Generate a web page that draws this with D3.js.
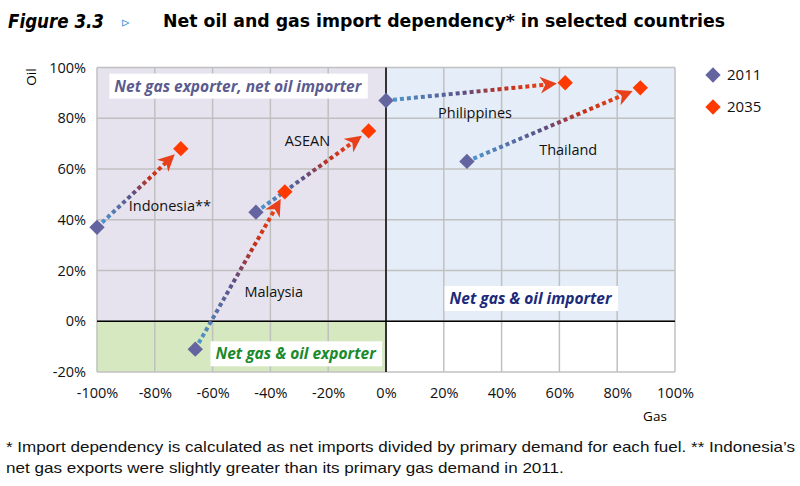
<!DOCTYPE html>
<html>
<head>
<meta charset="utf-8">
<script src="https://cdn.jsdelivr.net/npm/d3@7"></script>
<style>
  body { margin: 0; background: #fff; }
  svg { display: block; }
</style>
</head>
<body>
<svg id="chart" width="800" height="486"></svg>
<script>
// values (percent)
const countries = ["Indonesia**", "Malaysia", "ASEAN", "Philippines", "Thailand"];
const gas2011 = [-100, -66, -45, 0, 28];
const oil2011 = [37, -11, 43, 87, 63];
const gas2035 = [-71, -35, -6, 62, 88];
const oil2035 = [68, 51, 75, 94, 92];
const labelPos = [[-89, 43.5], [-49, 9.5], [-35, 69], [18, 80], [53, 65.5]]; // label anchors (gas, oil)
const xTicks = [-100, -80, -60, -40, -20, 0, 20, 40, 60, 80, 100];
const yTicks = [-20, 0, 20, 40, 60, 80, 100];

const svg = d3.select("#chart");
const x = d3.scaleLinear().domain([-100, 100]).range([97, 675]);
const y = d3.scaleLinear().domain([-20, 100]).range([372, 67.5]);

const tickFont = "'Open Sans', 'Noto Sans', sans-serif";

// quadrant fills
const quads = [
  { x0: -100, x1: 0, y0: 0, y1: 100, c: "#e6e3ee" },
  { x0: 0, x1: 100, y0: 0, y1: 100, c: "#e5eef8" },
  { x0: -100, x1: 0, y0: -20, y1: 0, c: "#d5e8bf" },
  { x0: 0, x1: 100, y0: -20, y1: 0, c: "#ffffff" }
];
svg.selectAll("rect.quad").data(quads).enter().append("rect")
  .attr("x", d => x(d.x0)).attr("y", d => y(d.y1))
  .attr("width", d => x(d.x1) - x(d.x0)).attr("height", d => y(d.y0) - y(d.y1))
  .attr("fill", d => d.c);

// grid
svg.append("g").selectAll("line").data(xTicks).enter().append("line")
  .attr("x1", d => x(d)).attr("x2", d => x(d))
  .attr("y1", y(100)).attr("y2", y(-20))
  .attr("stroke", "#c0c0c0").attr("stroke-width", 1.5);
svg.append("g").selectAll("line").data(yTicks).enter().append("line")
  .attr("x1", x(-100)).attr("x2", x(100))
  .attr("y1", d => y(d)).attr("y2", d => y(d))
  .attr("stroke", "#c0c0c0").attr("stroke-width", 1.5);

// zero axes
svg.append("line").attr("x1", x(-100)).attr("x2", x(100))
  .attr("y1", y(0)).attr("y2", y(0)).attr("stroke", "#000").attr("stroke-width", 1.5);
svg.append("line").attr("x1", x(0)).attr("x2", x(0))
  .attr("y1", y(100)).attr("y2", y(-20)).attr("stroke", "#000").attr("stroke-width", 1.5);

// axes tick labels
const xAxis = svg.append("g").attr("transform", `translate(0,${y(-20)})`)
  .call(d3.axisBottom(x).tickValues(xTicks).tickFormat(d => d + "%").tickSize(0).tickPadding(16));
const yAxis = svg.append("g").attr("transform", `translate(${x(-100)},0)`)
  .call(d3.axisLeft(y).tickValues(yTicks).tickFormat(d => d + "%").tickSize(0).tickPadding(11));
[xAxis, yAxis].forEach(a => {
  a.select(".domain").remove();
  a.selectAll("text").attr("font-family", tickFont).attr("font-size", 14.5).attr("fill", "#111");
});
svg.append("text").attr("x", 655).attr("y", 421).attr("text-anchor", "middle")
  .attr("font-family", tickFont).attr("font-size", 13.5).text("Gas");
svg.append("text").attr("transform", "translate(36,77) rotate(-90)").attr("text-anchor", "middle")
  .attr("font-family", tickFont).attr("font-size", 13.5).text("Oil");

// quadrant labels with white boxes
const quadLabels = [
  { t: "Net gas exporter, net oil importer", gx: -94, oy: 90.5, c: "#5b5b8f" },
  { t: "Net gas & oil exporter", gx: -59, oy: -15, c: "#1a8a2a" },
  { t: "Net gas & oil importer", gx: 22, oy: 6.8, c: "#1b2a7a" }
];
quadLabels.forEach(q => {
  const g = svg.append("g");
  const t = g.append("text").attr("x", x(q.gx)).attr("y", y(q.oy))
    .attr("font-family", tickFont).attr("font-size", 15.5).attr("font-weight", "bold")
    .attr("font-style", "italic").attr("fill", q.c).text(q.t);
  const b = t.node().getBBox();
  g.insert("rect", "text").attr("x", b.x - 5).attr("y", b.y - 1)
    .attr("width", b.width + 10).attr("height", b.height + 3).attr("fill", "#fff");
});

// arrows
const defs = svg.append("defs");
defs.append("marker").attr("id", "head").attr("viewBox", "0 0 10 10")
  .attr("refX", 6).attr("refY", 5).attr("markerWidth", 4.2).attr("markerHeight", 4.2)
  .attr("orient", "auto").attr("markerUnits", "strokeWidth")
  .append("path").attr("d", "M0,0 L10,5 L0,10 L3,5 Z").attr("fill", "#e8401c");

countries.forEach((c, i) => {
  const x1 = x(gas2011[i]), y1 = y(oil2011[i]);
  const x2 = x(gas2035[i]), y2 = y(oil2035[i]);
  const len = Math.hypot(x2 - x1, y2 - y1);
  const ux = (x2 - x1) / len, uy = (y2 - y1) / len;
  const sx = x1 + ux * 7, sy = y1 + uy * 7;
  const ex = x2 - ux * 15, ey = y2 - uy * 15;
  const gr = defs.append("linearGradient").attr("id", "g" + i)
    .attr("gradientUnits", "userSpaceOnUse")
    .attr("x1", sx).attr("y1", sy).attr("x2", ex).attr("y2", ey);
  gr.append("stop").attr("offset", "0%").attr("stop-color", "#4f95cc");
  gr.append("stop").attr("offset", "45%").attr("stop-color", "#5b4f85");
  gr.append("stop").attr("offset", "70%").attr("stop-color", "#c0301c");
  gr.append("stop").attr("offset", "100%").attr("stop-color", "#ee4418");
  svg.append("line").attr("x1", sx).attr("y1", sy).attr("x2", ex).attr("y2", ey)
    .attr("stroke", `url(#g${i})`).attr("stroke-width", 4)
    .attr("stroke-dasharray", "4 3").attr("marker-end", "url(#head)");
});

// diamonds
const diamond = d3.symbol().type(d3.symbolDiamond2).size(150);
svg.selectAll("path.d11").data(countries).enter().append("path")
  .attr("transform", (d, i) => `translate(${x(gas2011[i])},${y(oil2011[i])})`)
  .attr("d", diamond).attr("fill", "#6465a0");
svg.selectAll("path.d35").data(countries).enter().append("path")
  .attr("transform", (d, i) => `translate(${x(gas2035[i])},${y(oil2035[i])})`)
  .attr("d", diamond).attr("fill", "#ff3a00");

// country labels
svg.selectAll("text.country").data(countries).enter().append("text")
  .attr("x", (d, i) => x(labelPos[i][0])).attr("y", (d, i) => y(labelPos[i][1]))
  .attr("font-family", tickFont).attr("font-size", 14.5).attr("fill", "#111").text(d => d);

// legend
const legend = [{ t: "2011", c: "#6465a0" }, { t: "2035", c: "#ff3a00" }];
legend.forEach((l, i) => {
  svg.append("path").attr("transform", `translate(713,${75 + i * 32})`)
    .attr("d", diamond).attr("fill", l.c);
  svg.append("text").attr("x", 727).attr("y", 80 + i * 32)
    .attr("font-family", tickFont).attr("font-size", 15).attr("fill", "#111").text(l.t);
});

// title
svg.append("text").attr("x", 8).attr("y", 28)
  .attr("font-family", "'DejaVu Sans', sans-serif").attr("font-size", 20)
  .attr("font-weight", "bold").attr("font-style", "italic")
  .attr("textLength", 96).attr("lengthAdjust", "spacingAndGlyphs").text("Figure 3.3");
svg.append("text").attr("x", 122).attr("y", 27)
  .attr("font-family", "'DejaVu Sans', sans-serif").attr("font-size", 15)
  .attr("fill", "#3a8fd0").text("▹");
svg.append("text").attr("x", 163).attr("y", 27)
  .attr("font-family", "'DejaVu Sans', sans-serif").attr("font-size", 17.5).attr("font-weight", "bold")
  .attr("textLength", 562).attr("lengthAdjust", "spacingAndGlyphs")
  .text("Net oil and gas import dependency* in selected countries");

// footnote
const notes = [
  "* Import dependency is calculated as net imports divided by primary demand for each fuel. ** Indonesia\u2019s",
  "net gas exports were slightly greater than its primary gas demand in 2011."
];
const noteText = notes.map((n, i) => svg.append("text").attr("x", 6).attr("y", 452 + i * 21)
  .attr("font-family", "'Liberation Sans Narrow', 'Liberation Sans', sans-serif")
  .attr("font-size", 15).attr("fill", "#111").text(n));
const w0 = noteText[0].node().getComputedTextLength();
const k = 789 / w0;
noteText.forEach(t => t.attr("textLength", t.node().getComputedTextLength() * k)
  .attr("lengthAdjust", "spacingAndGlyphs"));
</script>
</body>
</html>
